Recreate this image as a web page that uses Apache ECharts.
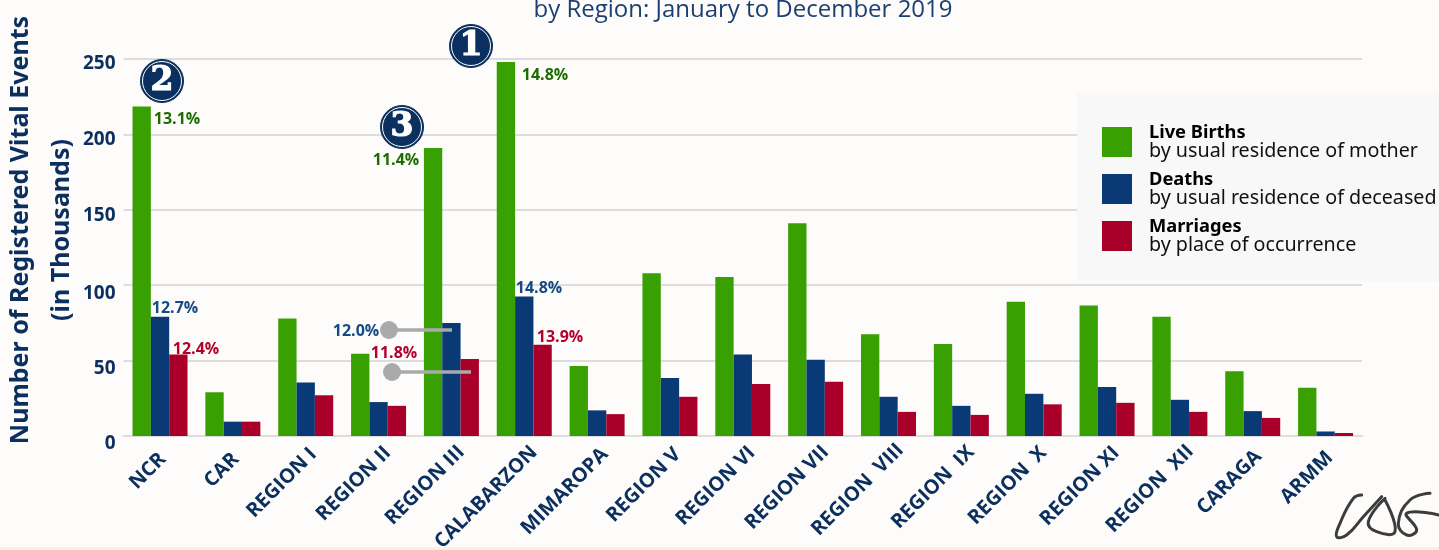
<!DOCTYPE html>
<html><head><meta charset="utf-8">
<style>html,body{margin:0;padding:0;background:#fdfcfa}#c{width:1439px;height:550px}</style>
<script src="https://cdn.jsdelivr.net/npm/echarts@6/dist/echarts.min.js"></script>
</head><body><div id="c"></div>
<script>
const categories = ['NCR','CAR','REGION I','REGION II','REGION III','CALABARZON','MIMAROPA','REGION V','REGION VI','REGION VII','REGION  VIII','REGION  IX','REGION  X','REGION XI','REGION  XII','CARAGA','ARMM'];
const liveBirths = [218.5,29,78,54.5,191,248,46.5,108,105.5,141,67.5,61,89,86.5,79,43,32];
const deaths = [79,9.5,35.5,22.5,75,92.5,17,38.5,54,50.5,26,20,28,32.5,24,16.5,3];
const marriages = [54,9.5,27,20,51,60.5,14.5,26,34.5,36,16,14,21,22,16,12,2];
const GREEN='#38a000', BLUE='#0a3a75', RED='#a80028', NAVY='#0b2f5e';
const DGREEN='#1e6b00', LBLUE='#154a86', LRED='#b3002d';

const pct = (text,x,y,fill)=>({type:'text',x,y:y+1,silent:true,z:20,style:{text,fill,font:'700 16px "Open Sans"',align:'center',verticalAlign:'middle'}});
const badge = (text,x,y)=>({type:'group',x,y,silent:true,children:[
  {type:'circle',z:20,shape:{r:21.5},style:{fill:'#0b2f5e',stroke:'#0b2f5e'}},
  {type:'circle',z:21,shape:{r:19.5},style:{fill:'#0b2f5e',stroke:'#ffffff',lineWidth:1}},
  {type:'text',z:22,style:{text,fill:'#fff',stroke:'#fff',lineWidth:1.2,font:'900 33px "DejaVu Serif"',align:'center',verticalAlign:'middle'}}
]});
const leader = (x1,x2,y)=>({type:'group',silent:true,children:[
  {type:'line',z:19,shape:{x1,y1:y,x2,y2:y},style:{stroke:'#aaaaaa',lineWidth:3.3}},
  {type:'circle',z:19,shape:{cx:x1,cy:y,r:9},style:{fill:'#aaaaaa'}}
]});
const sig = pts=>({type:'polyline',z:20,silent:true,shape:{points:pts.map(p=>[1200+p[0]/3,420+p[1]/3]),smooth:0.45},style:{stroke:'#3c3c3c',lineWidth:3,fill:null,lineCap:'round'}});

const xRich = {};
categories.forEach((c,i)=>{ xRich['c'+i]={padding:[0,-Math.round(1.4*c.length),0,0]}; });
const yShift = {250:10,200:11,150:12,100:16,50:15,0:16};
const yRich = {};
Object.keys(yShift).forEach(k=>{ yRich['v'+k]={color:NAVY,fontFamily:'Open Sans',fontWeight:700,fontSize:19,padding:[yShift[k],0,0,0]}; });

const chart = echarts.init(document.getElementById('c'));
chart.setOption({
  backgroundColor:'#fdfcfa',
  animation:false,
  textStyle:{fontFamily:'Open Sans'},
  title:{text:'by Region: January to December 2019',left:738,textAlign:'center',top:-7,
    textStyle:{fontFamily:'Open Sans',fontWeight:'normal',fontSize:24,color:'#1b3f73'}},
  grid:{left:123.6,right:77,top:59,bottom:114,outerBoundsMode:'none'},
  legend:{left:1077,top:93,orient:'vertical',itemWidth:30,itemHeight:30,itemGap:5,align:'left',
    padding:[26.5,3,26.5,25],backgroundColor:'#f8f8f8',
    data:[{name:'Live Births',icon:'rect'},{name:'Deaths',icon:'rect'},{name:'Marriages',icon:'rect'}],
    formatter:n=>{
      const sub={'Live Births':'by usual residence of mother','Deaths':'by usual residence of deceased','Marriages':'by place of occurrence'}[n];
      return '{b|'+n+'}\n{s|'+sub+'}';
    },
    textStyle:{rich:{
      b:{fontFamily:'Noto Sans',fontWeight:700,fontSize:18.3,color:'#000',lineHeight:19,padding:[4,0,0,12]},
      s:{fontFamily:'Noto Sans',fontSize:19.7,color:'#111',lineHeight:23,padding:[0,0,0,12]}
    }}
  },
  xAxis:{type:'category',data:categories,
    axisTick:{show:false},
    axisLine:{lineStyle:{color:'#dddddd',width:2}},
    axisLabel:{interval:0,rotate:45,margin:23,color:NAVY,fontFamily:'Open Sans',fontWeight:700,fontSize:20,
      formatter:(v,i)=>'{c'+i+'|'+v+'}',rich:xRich}},
  yAxis:{type:'value',min:0,max:250,interval:50,
    axisLine:{show:false},axisTick:{show:false},
    splitLine:{lineStyle:{color:'#dddddd',width:2}},
    axisLabel:{margin:8,formatter:v=>'{v'+v+'|'+v+'}',rich:yRich}},
  series:[
    {name:'Live Births',type:'bar',data:liveBirths,itemStyle:{color:GREEN},barGap:0,barCategoryGap:'24.5%'},
    {name:'Deaths',type:'bar',data:deaths,itemStyle:{color:BLUE}},
    {name:'Marriages',type:'bar',data:marriages,itemStyle:{color:RED}}
  ],
  graphic:[
    {type:'text',x:41.5,y:230,rotation:Math.PI/2,silent:true,z:20,style:{text:'Number of Registered Vital Events\n(in Thousands)',fill:NAVY,font:'700 25px "Noto Sans"',lineHeight:41,align:'center',verticalAlign:'middle'}},
    pct('13.1%',177,118,DGREEN),pct('14.8%',545,74,DGREEN),pct('11.4%',396,159,DGREEN),
    pct('12.7%',175,307,LBLUE),pct('14.8%',539,287,LBLUE),pct('12.0%',356,330,LBLUE),
    pct('12.4%',196,348,LRED),pct('11.8%',394,352,LRED),pct('13.9%',560,336,LRED),
    leader(389,452,330),leader(392,471,372),
    badge('1',471,46),badge('2',162,81),badge('3',402,127),
    {type:'rect',z:0,silent:true,shape:{x:0,y:547,width:1439,height:3},style:{fill:'#faf0e0'}},
    sig([[485,225],[460,235],[420,310],[410,350],[440,345],[490,290],[545,230]]),
    sig([[555,235],[505,305],[530,335],[585,335],[555,240]]),
    sig([[690,220],[630,240],[595,310],[620,345],[650,330],[620,280],[717,285]])
  ]
});
</script></body></html>
